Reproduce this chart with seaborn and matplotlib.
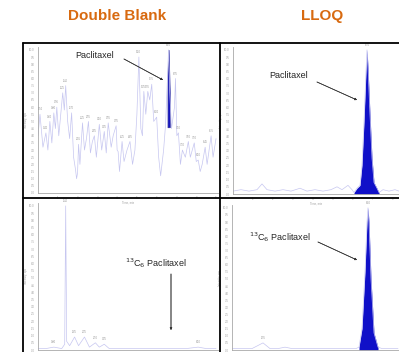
import numpy as np
import pandas as pd
import matplotlib
matplotlib.use("Agg")
import matplotlib.pyplot as plt
import seaborn as sns
from matplotlib.lines import Line2D

sns.set_style("white")
plt.rcParams['font.family'] = ['Liberation Sans', 'DejaVu Sans']

# ---------------- data ----------------
titles = ["Double Blank", "LLOQ"]
analyte = "Paclitaxel"
istd = r"$^{13}$C$_6$ Paclitaxel"

# Double blank, analyte channel (time min, intensity %)
db_a_time = [0.0, 0.1, 0.25, 0.4, 0.5, 0.6, 0.7, 0.8, 0.88, 0.95, 1.05, 1.15, 1.25, 1.33,
             1.4, 1.5, 1.6, 1.7, 1.8, 1.9, 1.95, 2.0, 2.05, 2.12, 2.25, 2.35, 2.45, 2.55,
             2.65, 2.75, 2.85, 2.95, 3.1, 3.22, 3.35, 3.45, 3.55, 3.7, 3.8, 3.95, 4.0,
             4.05, 4.12, 4.25, 4.35, 4.5, 4.65, 4.78, 4.9, 5.0, 5.1, 5.2, 5.28, 5.35,
             5.45, 5.55, 5.65, 5.75, 5.85, 6.0, 6.1, 6.2, 6.25, 6.35, 6.45, 6.55, 6.6,
             6.66, 6.75, 6.9, 6.95, 7.02, 7.1, 7.2, 7.3, 7.45, 7.6, 7.7, 7.9, 8.0, 8.1,
             8.2, 8.3, 8.45, 8.55, 8.75, 8.85, 9.0]
db_a_int = [40, 55, 32, 42, 30, 50, 35, 56, 45, 60, 40, 55, 70, 58,
            75, 50, 38, 56, 25, 16, 10, 14, 34, 20, 49, 30, 38, 50,
            28, 36, 40, 25, 48, 30, 43, 28, 49, 32, 40, 47, 30,
            29, 15, 36, 22, 30, 36, 20, 30, 55, 95, 45, 40, 71,
            55, 71, 65, 76, 50, 53, 25, 12, 18, 30, 48, 82, 100,
            70, 45, 60, 80, 40, 42, 20, 30, 25, 36, 25, 35, 22, 23,
            15, 20, 32, 20, 40, 25, 38]
db_a_peak_window = (6.5, 6.7)
db_a_peak_base = 46

# LLOQ analyte channel
lq_a_time = [0.0, 0.4, 0.8, 1.2, 1.45, 1.7, 2.1, 2.5, 2.9, 3.35, 3.7, 4.1, 4.5, 4.9, 5.2,
             5.45, 5.75, 5.95, 6.05, 6.2, 6.35, 6.45, 6.55, 6.65, 6.7, 6.75, 6.85, 6.95,
             7.05, 7.2, 7.3, 7.5, 7.8, 8.1, 8.3]
lq_a_int = [2, 3, 2, 3, 7, 3, 2, 3, 2, 4, 2, 3, 2, 3, 5,
            3, 6, 3, 1, 4, 6, 20, 50, 85, 100, 88, 55, 25,
            8, 4, 1, 3, 2, 3, 2]

# Double blank, IS channel
db_i_time = [0.0, 0.4, 0.8, 1.2, 1.35, 1.4, 1.45, 1.6, 1.85, 2.05, 2.35, 2.6, 2.9, 3.1,
             3.35, 3.6, 4.0, 4.5, 5.0, 5.5, 6.0, 6.5, 7.0, 7.5, 8.1, 8.5, 9.0]
db_i_int = [1, 1, 2, 1, 4, 100, 6, 3, 9, 3, 9, 2, 5, 2,
            4, 1, 1, 1, 1, 1, 1, 1, 1, 1, 2, 1, 1]

# LLOQ, IS channel
lq_i_time = [0.0, 0.5, 1.0, 1.55, 1.9, 2.3, 2.65, 3.0, 3.6, 4.2, 4.8, 5.4, 5.9, 6.2,
             6.35, 6.5, 6.65, 6.75, 6.8, 6.85, 6.95, 7.1, 7.3, 7.5, 8.0, 8.3]
lq_i_int = [1, 1, 1, 5, 1, 1, 2, 1, 1, 1, 1, 1, 1, 1,
            2, 15, 55, 90, 100, 90, 50, 12, 2, 1, 1, 1]

W, H = 399, 352
fig = plt.figure(figsize=(W / 100, H / 100), dpi=100)


def fx(x):
    return x / W


def fy(y):
    return 1 - y / H


def rect(l, t, r, b):
    return [fx(l), fy(b), (r - l) / W, (b - t) / H]


trace_col = "#c6c6f0"
peak_col = "#1010c8"
orange = "#d86a10"
tick_col = "#a0a0a0"

# Titles
fig.text(fx(117), fy(16), titles[0], color=orange, fontsize=11, fontweight="bold",
         ha="center", va="center")
fig.text(fx(322), fy(16), titles[1], color=orange, fontsize=11, fontweight="bold",
         ha="center", va="center")

# Grid frame
lw = 1.3
for (x0, y0, x1, y1) in [(23, 43, 399, 43), (23, 43, 23, 352), (220, 43, 220, 352),
                         (23, 198, 399, 198)]:
    fig.add_artist(Line2D([fx(x0), fx(x1)], [fy(y0), fy(y1)], color="black", lw=lw))


def style_ax(ax, xmax, xlabels=True):
    ax.set_ylim(0, 102)
    ax.set_xlim(0, xmax)
    for s in ["top", "right"]:
        ax.spines[s].set_visible(False)
    for s in ["left", "bottom"]:
        ax.spines[s].set_color("#a8a8a8")
        ax.spines[s].set_linewidth(0.6)
    ax.set_yticks(np.arange(0, 101, 5))
    ax.set_yticklabels([f"{v/10:.1f}" for v in np.arange(0, 101, 5)])
    ax.set_xticks(np.arange(0, xmax + 0.01, 0.25), minor=True)
    ax.set_xticks(np.arange(1, xmax + 0.01, 1))
    ax.tick_params(axis="both", which="both", length=1.5, width=0.4, color=tick_col,
                   labelsize=2.0, labelcolor=tick_col, pad=0.8)
    if xlabels:
        ax.set_xlabel("Time, min", fontsize=2.0, color=tick_col, labelpad=0.5)
    else:
        ax.set_xticklabels([])
        ax.set_xlabel("")
    ax.set_ylabel("Intensity, cps", fontsize=2.0, color=tick_col, labelpad=1)
    ax.patch.set_alpha(0)


def label_peaks(ax, t, v, thresh=8):
    for i in range(1, len(v) - 1):
        if v[i] > v[i - 1] and v[i] > v[i + 1] and v[i] >= thresh:
            ax.text(t[i], v[i] + 2, f"{t[i]:.2f}", fontsize=1.8, color="#909090",
                    ha="center", va="bottom")


# ---- Top-left: double blank analyte
ax1 = fig.add_axes(rect(38, 47, 218, 193))
df = pd.DataFrame({"t": db_a_time, "v": db_a_int})
sns.lineplot(data=df, x="t", y="v", ax=ax1, color=trace_col, lw=0.5)
m = (df.t >= db_a_peak_window[0]) & (df.t <= db_a_peak_window[1])
ax1.fill_between(df.t[m], db_a_peak_base, df.v[m], color=peak_col, lw=0.6,
                 edgecolor="#3030a0")
style_ax(ax1, 9.1)
label_peaks(ax1, db_a_time, db_a_int)

# ---- Top-right: LLOQ analyte
ax2 = fig.add_axes(rect(233, 47, 399, 194))
df = pd.DataFrame({"t": lq_a_time, "v": lq_a_int})
sns.lineplot(data=df, x="t", y="v", ax=ax2, color=trace_col, lw=0.5)
m = (df.t >= 6.05) & (df.t <= 7.3)
ax2.fill_between(df.t[m], 0, df.v[m], color=peak_col, lw=0)
style_ax(ax2, 8.3)
label_peaks(ax2, lq_a_time, lq_a_int, thresh=60)

# ---- Bottom-left: double blank IS
ax3 = fig.add_axes(rect(38, 203, 218, 350))
df = pd.DataFrame({"t": db_i_time, "v": db_i_int})
sns.lineplot(data=df, x="t", y="v", ax=ax3, color=trace_col, lw=0.5)
style_ax(ax3, 9.1, xlabels=False)
label_peaks(ax3, db_i_time, db_i_int, thresh=2)

# ---- Bottom-right: LLOQ IS
ax4 = fig.add_axes(rect(232, 205, 399, 350))
df = pd.DataFrame({"t": lq_i_time, "v": lq_i_int})
sns.lineplot(data=df, x="t", y="v", ax=ax4, color=trace_col, lw=0.5)
m = (df.t >= 6.35) & (df.t <= 7.3)
ax4.fill_between(df.t[m], 0, df.v[m], color=peak_col, lw=0)
style_ax(ax4, 8.35, xlabels=False)
label_peaks(ax4, lq_i_time, lq_i_int, thresh=4)

# ---- Annotations
arrow = dict(arrowstyle="-|>", color="#333333", lw=0.5, mutation_scale=3, shrinkA=0, shrinkB=0)
fs = 6.5
fig.text(fx(95), fy(56), analyte, fontsize=fs, ha="center", va="center")
fig.add_artist(plt.annotate("", xy=(fx(163), fy(80)), xytext=(fx(124), fy(59)),
                            xycoords="figure fraction", textcoords="figure fraction",
                            arrowprops=arrow))
fig.text(fx(289), fy(75), analyte, fontsize=fs, ha="center", va="center")
fig.add_artist(plt.annotate("", xy=(fx(357), fy(100)), xytext=(fx(317), fy(82)),
                            xycoords="figure fraction", textcoords="figure fraction",
                            arrowprops=arrow))
fig.text(fx(156), fy(263), istd, fontsize=fs, ha="center", va="center")
fig.add_artist(plt.annotate("", xy=(fx(171), fy(330)), xytext=(fx(171), fy(274)),
                            xycoords="figure fraction", textcoords="figure fraction",
                            arrowprops=arrow))
fig.text(fx(280), fy(237), istd, fontsize=fs, ha="center", va="center")
fig.add_artist(plt.annotate("", xy=(fx(357), fy(260)), xytext=(fx(318), fy(242)),
                            xycoords="figure fraction", textcoords="figure fraction",
                            arrowprops=arrow))

fig.savefig("out.png", dpi=100)
